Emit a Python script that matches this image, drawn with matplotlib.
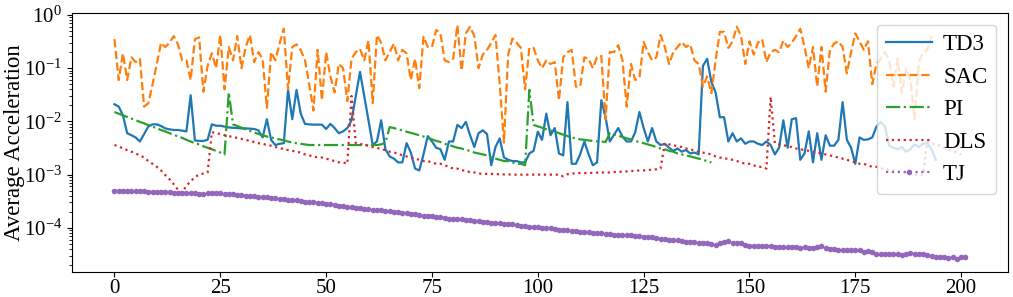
import numpy as np
import matplotlib
matplotlib.use("Agg")
import matplotlib.pyplot as plt

plt.rcParams['font.family'] = ['Liberation Serif', 'DejaVu Serif']
plt.rcParams['mathtext.fontset'] = 'stix'

# values (log scale)
td3 = [0.021, 0.019, 0.013, 0.006, 0.0055, 0.005, 0.0042, 0.0058, 0.008, 0.0088,
       0.0088, 0.0082, 0.0074, 0.0071, 0.0069, 0.0069, 0.0067, 0.0065, 0.031, 0.0044,
       0.0043, 0.0043, 0.0045, 0.0088, 0.0083, 0.0083, 0.008, 0.0077, 0.0076, 0.0075,
       0.0074, 0.0074, 0.0073, 0.0072, 0.0068, 0.005, 0.011, 0.0045, 0.0036, 0.0038,
       0.0039, 0.039, 0.011, 0.039, 0.014, 0.009, 0.0088, 0.0087, 0.0087, 0.0087,
       0.0072, 0.009, 0.0075, 0.006, 0.0065, 0.0075, 0.0105, 0.03, 0.085, 0.03,
       0.0105, 0.0036, 0.0042, 0.0105, 0.003, 0.0022, 0.002, 0.0017, 0.0017, 0.0039,
       0.0026, 0.0013, 0.0012, 0.0024, 0.0053, 0.0042, 0.0032, 0.003, 0.0019, 0.0042,
       0.0042, 0.0086, 0.0075, 0.0098, 0.0055, 0.0033, 0.006, 0.0068, 0.0058, 0.0015,
       0.0033, 0.0048, 0.0021, 0.0019, 0.0018, 0.0018, 0.0017, 0.0017, 0.0025, 0.0028,
       0.0064, 0.0045, 0.014, 0.0055, 0.0075, 0.0025, 0.0023, 0.023, 0.0016, 0.0016,
       0.0024, 0.0042, 0.0024, 0.0015, 0.0017, 0.025, 0.012, 0.0042, 0.0056, 0.0075,
       0.0052, 0.0042, 0.0042, 0.0062, 0.015, 0.0075, 0.0042, 0.0075, 0.0042, 0.0036,
       0.0038, 0.0032, 0.0028, 0.0031, 0.0027, 0.0029, 0.0025, 0.0026, 0.0024, 0.11,
       0.15, 0.055, 0.035, 0.012, 0.012, 0.0042, 0.006, 0.0042, 0.0048, 0.0038,
       0.0042, 0.0042, 0.0038, 0.0036, 0.0042, 0.0036, 0.0024, 0.0032, 0.0105, 0.0032,
       0.011, 0.0115, 0.0019, 0.0025, 0.0065, 0.0017, 0.006, 0.0019, 0.0055, 0.0035,
       0.0035, 0.0045, 0.023, 0.0045, 0.0032, 0.0016, 0.005, 0.0045, 0.0046, 0.005,
       0.008, 0.0098, 0.008, 0.0035, 0.0032, 0.003, 0.0033, 0.0027, 0.003, 0.0037,
       0.0033, 0.0038, 0.0039, 0.003, 0.0019]

sac = [0.35, 0.06, 0.19, 0.06, 0.16, 0.13, 0.15, 0.019, 0.022, 0.05,
       0.12, 0.3, 0.25, 0.3, 0.4, 0.28, 0.14, 0.14, 0.06, 0.35,
       0.38, 0.036, 0.11, 0.19, 0.1, 0.42, 0.04, 0.25, 0.14, 0.4,
       0.1, 0.25, 0.42, 0.13, 0.2, 0.15, 0.018, 0.2, 0.14, 0.29,
       0.55, 0.04, 0.25, 0.28, 0.22, 0.14, 0.05, 0.016, 0.22, 0.025,
       0.2, 0.07, 0.035, 0.12, 0.1, 0.024, 0.15, 0.2, 0.23, 0.14,
       0.33, 0.022, 0.42, 0.3, 0.14, 0.2, 0.29, 0.14, 0.22, 0.19,
       0.06, 0.15, 0.042, 0.39, 0.25, 0.25, 0.52, 0.45, 0.14, 0.13,
       0.15, 0.64, 0.09, 0.45, 0.6, 0.4, 0.1, 0.18, 0.22, 0.3,
       0.42, 0.05, 0.004, 0.18, 0.36, 0.3, 0.24, 0.04, 0.24, 0.24,
       0.14, 0.1, 0.14, 0.12, 0.13, 0.025, 0.16, 0.2, 0.22, 0.045,
       0.045, 0.16, 0.15, 0.1, 0.16, 0.17, 0.011, 0.2, 0.2, 0.27,
       0.14, 0.019, 0.12, 0.06, 0.065, 0.31, 0.2, 0.14, 0.16, 0.42,
       0.25, 0.12, 0.2, 0.25, 0.31, 0.25, 0.28, 0.14, 0.12, 0.045,
       0.07, 0.034, 0.14, 0.48, 0.48, 0.24, 0.32, 0.6, 0.4, 0.12,
       0.32, 0.18, 0.3, 0.35, 0.13, 0.2, 0.22, 0.2, 0.33, 0.25,
       0.3, 0.4, 0.55, 0.25, 0.1, 0.25, 0.045, 0.25, 0.036, 0.22,
       0.29, 0.32, 0.25, 0.08, 0.2, 0.45, 0.32, 0.22, 0.32, 0.05,
       0.12, 0.15, 0.2, 0.14, 0.045, 0.15, 0.034, 0.1, 0.06, 0.011,
       0.13, 0.2, 0.22, 0.4]

pi = [0.015, 0.014, 0.013, 0.0121, 0.0113, 0.0105, 0.0098, 0.0092, 0.0085, 0.008,
      0.0074, 0.0069, 0.0065, 0.006, 0.0056, 0.0052, 0.0049, 0.0045, 0.0042, 0.0039,
      0.0037, 0.0034, 0.0032, 0.003, 0.0028, 0.0026, 0.0024, 0.035, 0.0088, 0.0082,
      0.0076, 0.0071, 0.0066, 0.0062, 0.0058, 0.0055, 0.0052, 0.005, 0.0048, 0.0046,
      0.0044, 0.0042, 0.004, 0.0039, 0.0038, 0.0037, 0.0036, 0.0036, 0.0036, 0.0036,
      0.0036, 0.0036, 0.0036, 0.0036, 0.0036, 0.0036, 0.0036, 0.0036, 0.0036, 0.0036,
      0.0036, 0.0036, 0.0036, 0.0037, 0.004, 0.0078, 0.0075, 0.0071, 0.0068, 0.0064,
      0.0061, 0.0058, 0.0055, 0.0052, 0.0049, 0.0046, 0.0043, 0.0041, 0.0038, 0.0036,
      0.0034, 0.0032, 0.0031, 0.0029, 0.0028, 0.0026, 0.0025, 0.0024, 0.0023, 0.0021,
      0.002, 0.0019, 0.0018, 0.0018, 0.0017, 0.0016, 0.0016, 0.0015, 0.039, 0.0086,
      0.0081, 0.0076, 0.0071, 0.0067, 0.0064, 0.006, 0.0056, 0.0053, 0.005, 0.0048,
      0.0046, 0.0045, 0.0044, 0.0043, 0.0042, 0.0042, 0.0041, 0.006, 0.0057, 0.0054,
      0.0051, 0.0048, 0.0046, 0.0043, 0.0041, 0.0039, 0.0037, 0.0035, 0.0033, 0.0031,
      0.003, 0.0028, 0.0027, 0.0025, 0.0024, 0.0023, 0.0022, 0.0021, 0.002, 0.0019,
      0.0018, 0.0017]

dls = [0.0036, 0.0034, 0.0031, 0.0029, 0.0027, 0.0025, 0.0023, 0.0021, 0.0018, 0.0016,
       0.0014, 0.0012, 0.00098, 0.00082, 0.00066, 0.00052, 0.00046, 0.00062, 0.00075, 0.0009,
       0.001, 0.00105, 0.0011, 0.0063, 0.006, 0.0058, 0.0055, 0.0053, 0.0051, 0.0049,
       0.0047, 0.0045, 0.0043, 0.0041, 0.0039, 0.0038, 0.0036, 0.0035, 0.0033, 0.0032,
       0.003, 0.0029, 0.0028, 0.0027, 0.0026, 0.0024, 0.0023, 0.0022, 0.0021, 0.0021,
       0.002, 0.0019, 0.0018, 0.0017, 0.0017, 0.0016, 0.03, 0.0039, 0.0038, 0.0036,
       0.0035, 0.0033, 0.0032, 0.003, 0.0029, 0.0027, 0.0026, 0.0025, 0.0023, 0.0022,
       0.0021, 0.002, 0.0019, 0.0018, 0.0018, 0.0017, 0.0016, 0.0016, 0.0015, 0.0014,
       0.0013, 0.0013, 0.0012, 0.0012, 0.0011, 0.0011, 0.00105, 0.00104, 0.00103, 0.00103,
       0.00102, 0.00102, 0.00101, 0.00101, 0.001, 0.001, 0.001, 0.001, 0.001, 0.001,
       0.001, 0.001, 0.001, 0.001, 0.001, 0.001, 0.00093, 0.00102, 0.00105, 0.00106,
       0.00107, 0.00107, 0.00108, 0.00108, 0.00109, 0.0011, 0.0011, 0.0011, 0.00112, 0.00113,
       0.00114, 0.00115, 0.00117, 0.00118, 0.0012, 0.0012, 0.00122, 0.00124, 0.00126, 0.0013,
       0.0039, 0.0037, 0.0036, 0.0034, 0.0033, 0.0031, 0.003, 0.0028, 0.0027, 0.0026,
       0.0025, 0.0024, 0.0022, 0.0021, 0.002, 0.002, 0.0019, 0.0018, 0.0017, 0.0016,
       0.0016, 0.0015, 0.0014, 0.0014, 0.0013, 0.029, 0.0039, 0.0037, 0.0036, 0.0034,
       0.0033, 0.0031, 0.003, 0.0029, 0.0028, 0.0027, 0.0026, 0.0025, 0.0024, 0.0023,
       0.0022, 0.0021, 0.002, 0.0019, 0.0018, 0.0017, 0.0016, 0.0016, 0.0015, 0.0014,
       0.0014, 0.0013, 0.0013, 0.0012, 0.0012, 0.0012, 0.0011, 0.0011, 0.0011, 0.001,
       0.001, 0.001, 0.0042, 0.0039, 0.0037, 0.0035, 0.0032, 0.003, 0.0028, 0.0026,
       0.0024]

# TJ in units of 1e-5
tj = [50, 50, 49.5, 49.5, 49, 49, 48.5, 48.5, 48, 47.5,
      47, 47, 46.5, 46.5, 46, 46, 45.5, 45, 45, 44.5,
      44, 44, 44.5, 45.5, 45, 44.5, 44, 43.5, 42.5, 42,
      41, 40.5, 40, 39.5, 38.5, 38, 37.5, 36.5, 36, 35.5,
      35, 34, 33.5, 33, 32, 31, 30.5, 30, 29.5, 29,
      28, 27.5, 27, 26, 25.5, 25, 24.5, 24, 23.5, 23,
      22.5, 22, 21.5, 21.5, 21, 20.5, 20, 19.5, 19, 19,
      18.5, 18, 17.5, 17, 17, 16.5, 16, 16, 15.5, 15,
      15, 14.5, 14.5, 14, 14, 13.5, 13.5, 13, 13, 12.5,
      12.5, 12.5, 12, 12, 12, 11.5, 11, 11, 10.5, 10.5,
      10.2, 10, 10, 9.8, 9.5, 9.3, 9.2, 9, 8.8, 8.6,
      8.5, 8.4, 8.2, 8, 8, 7.9, 7.8, 7.6, 7.5, 7.4,
      7.3, 7.2, 7.2, 7, 6.9, 6.8, 6.7, 6.6, 6.4, 6.3,
      6.2, 6, 5.9, 5.8, 5.6, 5.5, 5.5, 5.4, 5.3, 5.2,
      5.1, 5.0, 4.8, 5.2, 5.5, 5.6, 5.3, 5.2, 5.3, 4.8,
      4.6, 4.6, 4.5, 4.6, 4.5, 4.5, 4.4, 4.4, 4.4, 4.3,
      4.3, 4.3, 4.2, 4.3, 4.2, 4.2, 4.3, 4.6, 4.2, 4.0,
      4.1, 3.9, 3.9, 3.8, 3.9, 3.8, 3.8, 3.6, 3.7, 3.5,
      3.3, 3.2, 3.3, 3.2, 3.2, 3.2, 3.1, 3.3, 3.4, 3.2,
      3.3, 3.2, 3.1, 3.0, 2.9, 2.9, 2.8, 2.7, 2.8, 2.6,
      2.8, 2.8]

fig = plt.figure(figsize=(10.13, 2.97), dpi=100)
ax = fig.add_axes([0.071, 0.085, 0.924, 0.87])

ax.plot(np.arange(len(td3)), td3, '-', lw=1.6, label="TD3")
ax.plot(np.arange(len(sac)), sac, '--', lw=1.6, label="SAC")
ax.plot(np.arange(len(pi)), pi, '-.', lw=1.6, label="PI")
ax.plot(np.arange(len(dls)), dls, ':', lw=1.6, label="DLS")
ax.plot(np.arange(len(tj)), np.array(tj) * 1e-5, ':', lw=1.6, marker='o',
        markersize=3, label="TJ")

ax.set_yscale('log')
ax.set_ylim(1.5e-5, 1.07)
ax.set_xticks([0, 25, 50, 75, 100, 125, 150, 175, 200])
ax.tick_params(axis='x', labelsize=15, pad=2)
ax.tick_params(axis='y', labelsize=15)
ax.set_ylabel("Average Acceleration", fontsize=16.5)
ax.yaxis.set_label_coords(-0.05, 0.5)
ax.legend(loc='upper right', fontsize=16.5, handletextpad=0.5)

fig.savefig("out.png", dpi=100)
